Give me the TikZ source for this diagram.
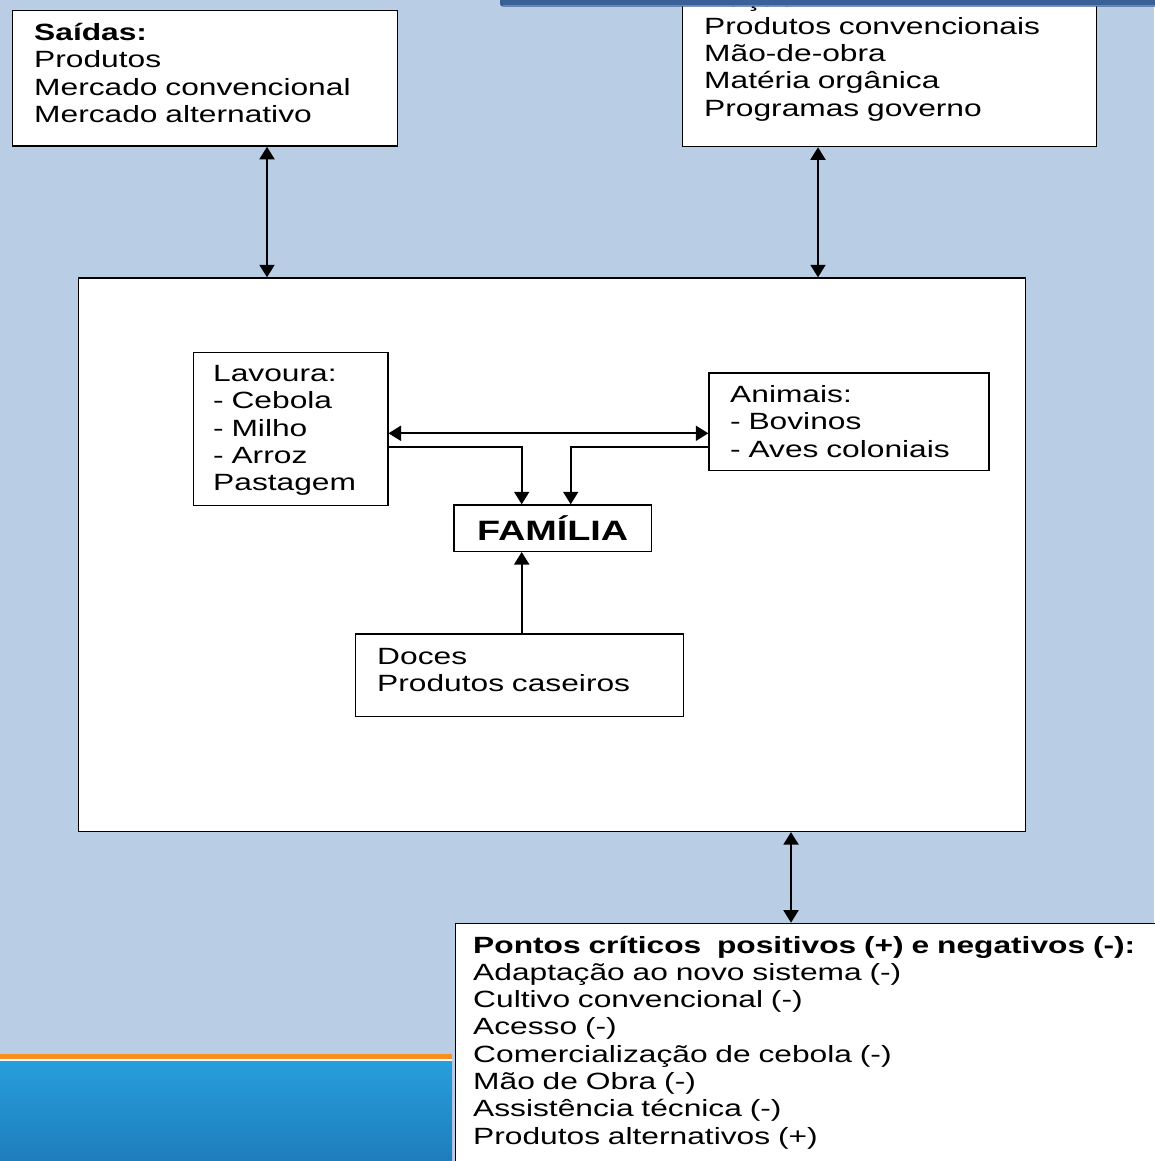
\documentclass[tikz,border=0pt]{standalone}
\usepackage{fontspec}
\setmainfont[FakeStretch=1.35]{Liberation Sans}
\usetikzlibrary{arrows.meta}
\definecolor{fundo}{RGB}{185,205,229}
\definecolor{barra}{RGB}{58,96,152}
\definecolor{laranja}{RGB}{249,142,29}
\definecolor{azulA}{RGB}{40,158,220}
\definecolor{azulB}{RGB}{30,125,188}
\tikzset{
  caixa/.style={draw, line width=1.3pt, fill=white, inner sep=0pt, anchor=north west},
  texto/.style={inner sep=0pt, anchor=base west, align=left, text width=420pt,
    font=\fontsize{23.5}{27.3}\selectfont},
  ponta/.tip={Triangle[width=15pt,length=12.5pt]},
  dupla/.style={line width=1.9pt, ponta-ponta},
  seta/.style={line width=1.9pt, -ponta},
}
\begin{document}
\begin{tikzpicture}[x=1pt,y=-1pt]
  \useasboundingbox (0,0) rectangle (1154,1161);
  \fill[fundo] (0,0) rectangle (1154,1161);
  % faixa do slide, embaixo
  \shade[top color=azulA, bottom color=azulB] (0,1061) rectangle (452,1161);
  \fill[laranja] (0,1053.5) rectangle (452,1058.5);
  \fill[white] (0,1058.5) rectangle (452,1060.5);

  % caixas
  \node[caixa, minimum width=384.5pt, minimum height=135.5pt] (saidas) at (12,10) {};
  \node[caixa, minimum width=414pt, minimum height=160pt] (insumos) at (682,-14) {};
  \node[caixa, minimum width=947pt, minimum height=553.5pt] (sistema) at (78,277.3) {};
  \node[caixa, minimum width=194.5pt, minimum height=153.3pt] (lavoura) at (192.7,351.7) {};
  \node[caixa, minimum width=280pt, minimum height=97.7pt] (animais) at (708.3,372.3) {};
  \node[caixa, minimum width=197.4pt, minimum height=46.4pt,
    font=\fontsize{28}{30}\selectfont\bfseries] (familia) at (453.3,504.3) {FAMÍLIA\hspace{6pt}};
  \node[caixa, minimum width=328pt, minimum height=82.7pt] (doces) at (355,633.3) {};
  \node[caixa, minimum width=720pt, minimum height=260pt] (criticos) at (455,922.7) {};

  % textos
  \node[texto] (saidas-txt) at (34,40.7)
    {\textbf{Saídas:}\\Produtos\\Mercado convencional\\Mercado alternativo};
  \node[texto] (insumos-txt) at (704,7)
    {Ração\\Produtos convencionais\\Mão-de-obra\\Matéria orgânica\\Programas governo};
  \node[texto] (lavoura-txt) at (213,381.5)
    {Lavoura:\\- Cebola\\- Milho\\- Arroz\\Pastagem};
  \node[texto] (animais-txt) at (730,402.5)
    {Animais:\\- Bovinos\\- Aves coloniais};
  \node[texto] (doces-txt) at (377,664)
    {Doces\\Produtos caseiros};
  \node[texto, text width=700pt] (criticos-txt) at (473,953)
    {\textbf{Pontos críticos~ positivos (+) e negativos (-):}\\Adaptação ao novo sistema (-)\\
     Cultivo convencional (-)\\Acesso (-)\\Comercialização de cebola (-)\\Mão de Obra (-)\\
     Assistência técnica (-)\\Produtos alternativos (+)};

  % barra do titulo, em cima
  \fill[barra, rounded corners=3pt] (500,-10) rectangle (1170,6.7);
  \draw[barra!75!white, line width=1pt] (503,6) -- (1170,6);

  % ligacoes
  \draw[dupla] (saidas.south -| 267,0) -- (sistema.north -| 267,0);
  \draw[dupla] (insumos.south -| 818,0) -- (sistema.north -| 818,0);
  \draw[dupla] (lavoura.east |- 0,433.3) -- (animais.west |- 0,433.3);
  \draw[seta] (lavoura.east |- 0,446.7) -| (familia.north -| 521.7,0);
  \draw[seta] (animais.west |- 0,446.7) -| (familia.north -| 570.7,0);
  \draw[seta] (doces.north -| 521.7,0) -- (familia.south -| 521.7,0);
  \draw[dupla] (sistema.south -| 791,0) -- (criticos.north -| 791,0);
\end{tikzpicture}
\end{document}
